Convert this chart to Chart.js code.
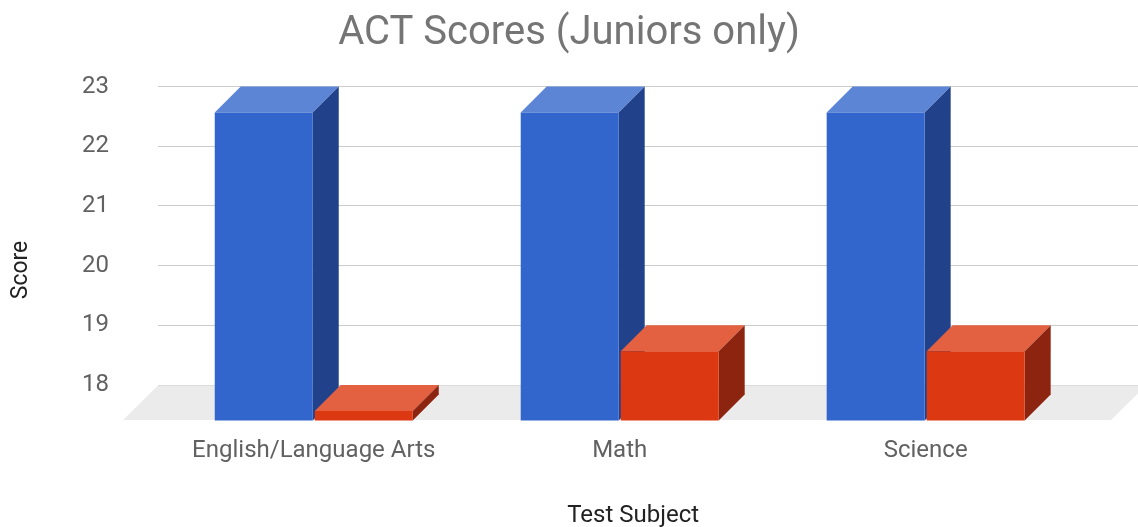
<!DOCTYPE html>
<html>
<head>
<meta charset="utf-8">
<script src="https://cdn.jsdelivr.net/npm/chart.js@4.4.0/dist/chart.umd.min.js"></script>
<style>
html, body { margin: 0; padding: 0; background: #fff; }
</style>
</head>
<body>
<canvas id="myChart" width="1138" height="527"></canvas>
<script>
// data
const subjects = ['English/Language Arts', 'Math', 'Science'];
const blueScores = [23, 23, 23];
const redScores = [18, 19, 19];
const scoreMin = 18;
const scoreMax = 23;

// 3d look: depth of each bar and of the floor, in px
const BAR_DEPTH = 26;
const FLOOR_DEPTH = 35;

const colors = {
    blue: { front: '#3366cc', top: '#5c85d6', side: '#21428a' },
    red: { front: '#dc3912', top: '#e36041', side: '#8c2410' }
};

const box3d = {
    id: 'box3d',
    // floor, then the top and side faces of every bar (blue first so red covers it)
    beforeDatasetsDraw(chart) {
        const ctx = chart.ctx;
        const a = chart.chartArea;
        const y0 = a.bottom + 0.5;
        ctx.save();
        ctx.fillStyle = '#ebebeb';
        ctx.beginPath();
        ctx.moveTo(a.left, y0);
        ctx.lineTo(a.right + 8, y0);
        ctx.lineTo(a.right + 8 - FLOOR_DEPTH, a.bottom + FLOOR_DEPTH);
        ctx.lineTo(a.left - FLOOR_DEPTH, a.bottom + FLOOR_DEPTH);
        ctx.closePath();
        ctx.fill();

        const d = BAR_DEPTH;
        chart.data.datasets.forEach((ds, i) => {
            const c = colors[ds.key];
            chart.getDatasetMeta(i).data.forEach(bar => {
                const l = bar.x - bar.width / 2, r = bar.x + bar.width / 2;
                ctx.fillStyle = c.top;
                ctx.beginPath();
                ctx.moveTo(l - d, bar.y + d);
                ctx.lineTo(r - d, bar.y + d);
                ctx.lineTo(r, bar.y);
                ctx.lineTo(l, bar.y);
                ctx.closePath();
                ctx.fill();
                ctx.fillStyle = c.side;
                ctx.beginPath();
                ctx.moveTo(r - d, bar.y + d);
                ctx.lineTo(r, bar.y);
                ctx.lineTo(r, bar.base);
                ctx.lineTo(r - d, bar.base + d);
                ctx.closePath();
                ctx.fill();
            });
        });
        ctx.restore();
    },
    // front faces are the normal bars, pushed forward
    beforeDatasetDraw(chart) {
        chart.ctx.save();
        chart.ctx.translate(-BAR_DEPTH, BAR_DEPTH);
    },
    afterDatasetDraw(chart) {
        chart.ctx.restore();
    }
};

Chart.defaults.font.family = 'Roboto';

const config = {
    type: 'bar',
    data: {
        datasets: [{
            label: 'Blue',
            key: 'blue',
            data: subjects.map((s, i) => ({ x: i, y: blueScores[i] })),
            backgroundColor: colors.blue.front,
            base: 17.84,
            clip: false
        }, {
            label: 'Red',
            key: 'red',
            data: subjects.map((s, i) => ({ x: i, y: redScores[i] })),
            backgroundColor: colors.red.front,
            base: 17.84,
            clip: false
        }]
    },
    options: {
        responsive: false,
        animation: false,
        categoryPercentage: 0.6536,
        barPercentage: 0.98,
        layout: { padding: 0 },
        plugins: {
            legend: { display: false },
            tooltip: { enabled: false },
            title: {
                display: true,
                text: 'ACT Scores (Juniors only)',
                color: '#757575',
                font: { size: 40, weight: 'normal' },
                padding: { top: 10, bottom: 28.5 }
            }
        },
        scales: {
            x: {
                type: 'linear',
                offset: false,
                min: -0.594,
                max: 2.609,
                grid: { display: false },
                border: { display: false },
                afterBuildTicks: scale => {
                    scale.ticks = subjects.map((s, i) => ({ value: i }));
                },
                afterFit: scale => { scale.height = 142; },
                ticks: {
                    callback: v => subjects[v],
                    labelOffset: -BAR_DEPTH,
                    padding: 44,
                    color: '#616161',
                    font: { size: 24 },
                    maxRotation: 0,
                    autoSkip: false
                },
                title: {
                    display: true,
                    // trailing spaces nudge the centred title to the left
                    text: 'Test Subject     ',
                    color: '#222',
                    font: { size: 24 },
                    padding: { top: 30, bottom: -3 }
                }
            },
            y: {
                min: scoreMin,
                max: scoreMax,
                afterFit: scale => { scale.width = 158; },
                grid: { color: '#cccccc', drawTicks: false },
                border: { display: false },
                ticks: {
                    stepSize: 1,
                    padding: 49,
                    color: '#616161',
                    font: { size: 24 }
                },
                title: {
                    display: true,
                    // trailing spaces nudge the rotated title down
                    text: 'Score            ',
                    color: '#222',
                    font: { size: 23 },
                    padding: { top: 7 }
                }
            }
        }
    },
    plugins: [box3d]
};

const myChart = new Chart(document.getElementById('myChart'), config);
</script>
</body>
</html>
